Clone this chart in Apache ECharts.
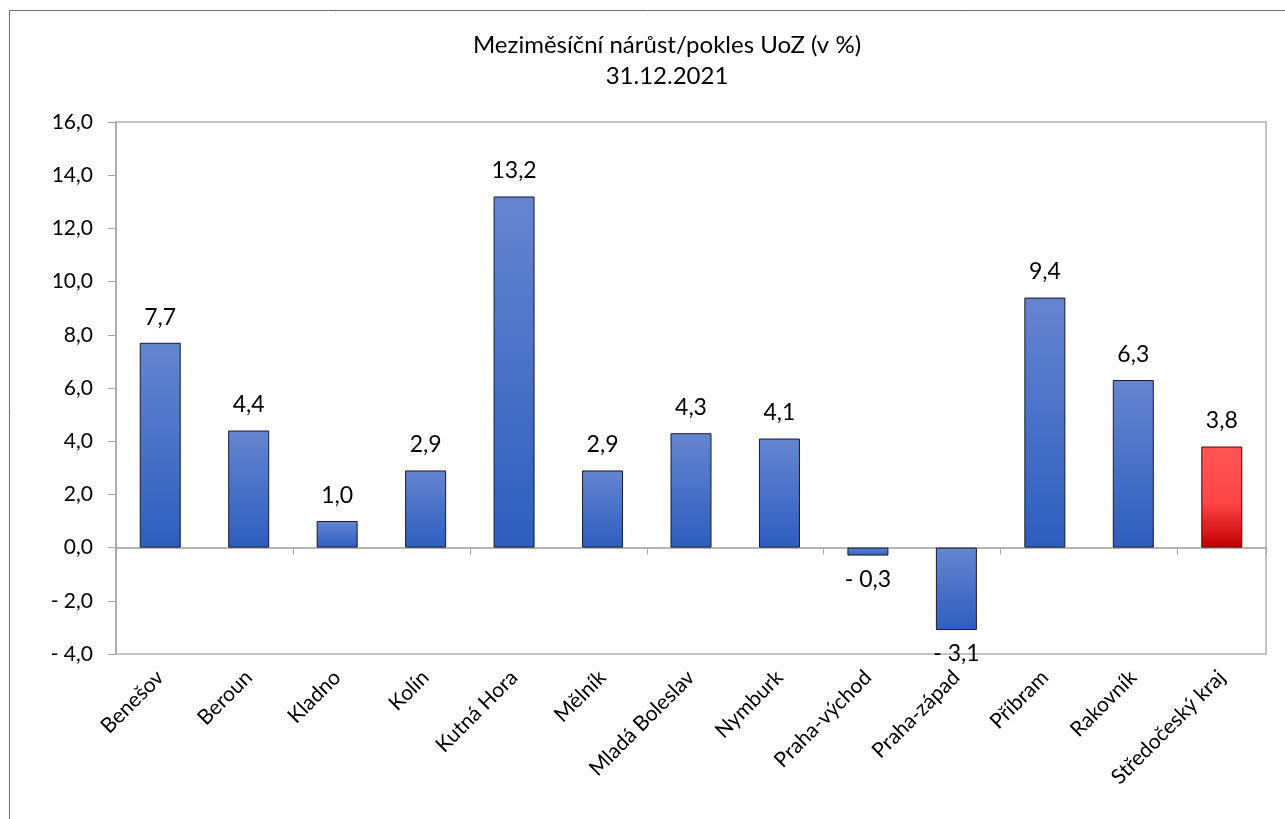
<!DOCTYPE html>
<html>
<head>
<meta charset="utf-8">
<script src="https://cdn.jsdelivr.net/npm/echarts@6/dist/echarts.min.js"></script>
<style>
html,body{margin:0;padding:0;background:#fff;}
#c{width:1285px;height:819px;}
</style>
</head>
<body>
<div id="c"></div>
<script>
var categories = ['Benešov','Beroun','Kladno','Kolín','Kutná Hora','Mělník','Mladá Boleslav','Nymburk','Praha-východ','Praha-západ','Příbram','Rakovník','Středočeský kraj'];
var values = [7.7, 4.4, 1.0, 2.9, 13.2, 2.9, 4.3, 4.1, -0.3, -3.1, 9.4, 6.3, 3.8];
var highlighted = ['Středočeský kraj'];
var titleLines = ['Meziměsíční nárůst/pokles UoZ (v %)', '31.12.2021'];

var FONT = 'Lato';
function fmt(v){
  var s = Math.abs(v).toFixed(1).replace('.', ',');
  return v < 0 ? '- ' + s : s;
}
var blue = new echarts.graphic.LinearGradient(0,0,0,1,[
  {offset:0,color:'#6585D0'},{offset:1,color:'#2D5EBF'}]);
var red = new echarts.graphic.LinearGradient(0,0,0,1,[
  {offset:0,color:'#FF5656'},{offset:0.55,color:'#FF4646'},{offset:1,color:'#C00000'}]);

var seriesData = values.map(function(v,i){
  var isHi = highlighted.indexOf(categories[i]) >= 0;
  return {
    value: v,
    itemStyle: {color: isHi ? red : blue, borderColor: isHi ? '#5a0000' : '#1a1a2a', borderWidth: 1},
    label: {position: v < 0 ? 'bottom' : 'top', distance: v < 0 ? 12 : 14}
  };
});

var chart = echarts.init(document.getElementById('c'), null, {renderer:'canvas'});
chart.setOption({
  animation: false,
  backgroundColor: '#fff',
  title: {
    text: titleLines.join('\n'),
    left: 662, top: 25, textAlign: 'center',
    textStyle: {fontFamily: FONT, fontSize: 24, fontWeight: 'normal', color: '#000', lineHeight: 31}
  },
  graphic: [{
    type: 'rect', silent: true,
    shape: {x: 9.5, y: 10.5, width: 2000, height: 2000},
    style: {fill: 'none', stroke: '#6b6b6b', lineWidth: 1}
  }],
  grid: {left: 116, top: 122, right: 19, bottom: 165, show: true, borderColor: '#C4C4C4', borderWidth: 2, containLabel: false},
  xAxis: [{
    type: 'category', data: categories, position: 'bottom',
    axisLine: {show: false, onZero: false}, axisTick: {show: false},
    axisLabel: {rotate: 45, margin: 20, fontFamily: FONT, fontSize: 21, color: '#000', interval: 0}
  },{
    type: 'category', data: categories, position: 'bottom',
    axisLine: {show: true, onZero: true, lineStyle: {color: '#B4B4B4', width: 2}},
    axisTick: {show: true, length: 7, inside: false, lineStyle: {color: '#A6A6A6', width: 1}},
    axisLabel: {show: false}
  }],
  yAxis: {
    type: 'value', min: -4, max: 16, interval: 2,
    axisLine: {show: true, lineStyle: {color: '#A6A6A6', width: 1.5}},
    axisTick: {show: true, length: 8, lineStyle: {color: '#A6A6A6'}},
    splitLine: {show: false},
    axisLabel: {margin: 23, fontFamily: FONT, fontSize: 21, color: '#000', formatter: fmt}
  },
  series: [{
    type: 'bar', xAxisIndex: 0, yAxisIndex: 0,
    barWidth: 41,
    data: seriesData,
    label: {show: true, fontFamily: FONT, fontSize: 23, color: '#000', formatter: function(p){return fmt(p.value);}}
  }]
});
</script>
</body>
</html>
